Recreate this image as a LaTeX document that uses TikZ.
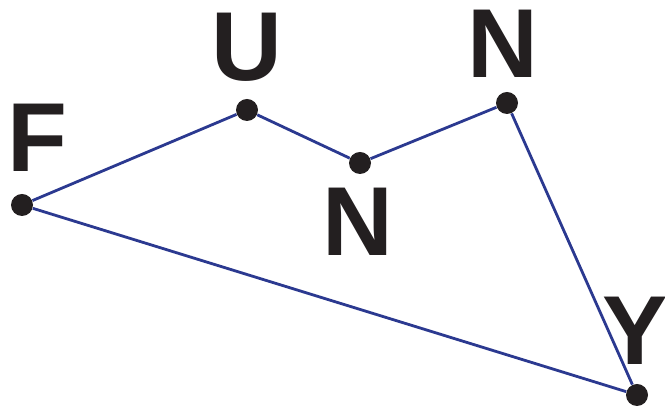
\documentclass[tikz,border=0pt]{standalone}
\usepackage{fontspec}
\setmainfont{Liberation Sans}
\definecolor{edgeblue}{HTML}{2B3990}
\definecolor{inkblack}{HTML}{231F20}
\tikzset{
  vert/.style={circle,fill=inkblack,inner sep=0pt,minimum size=11pt},
  letter/.style={inkblack,inner sep=0pt,font=\fontsize{49}{49}\selectfont\bfseries},
  edge/.style={edgeblue,line width=1.4pt}
}
\begin{document}
\begin{tikzpicture}[x=0.5pt,y=-0.5pt]
            \useasboundingbox (0,0) rectangle (665,415);
            \node [vert] (f) at (22,205) {};
            \node [vert] (u) at (247,110) {};
            \node [vert] (n1) at (360,163) {};
            \node [vert] (n2) at (507,103) {};
            \node [vert] (y) at (637,395) {};
            \draw [edge] (f) -- (u) -- (n1) -- (n2) -- (y) -- (f);
            \node [letter] (lf) at (37,138) {F};
            \node [letter] (lu) at (247,47) {U};
            \node [letter] (ln1) at (358,222) {N};
            \node [letter] (ln2) at (503,44) {N};
            \node [letter] (ly) at (635,331) {Y};
        \end{tikzpicture}
\end{document}
